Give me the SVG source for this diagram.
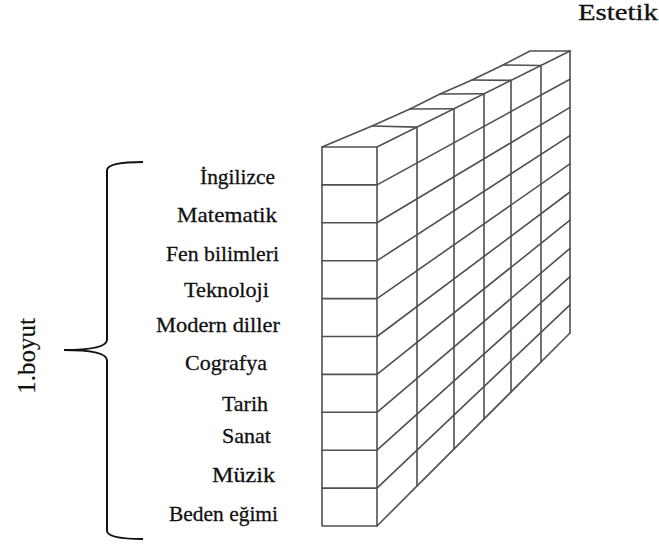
<svg xmlns="http://www.w3.org/2000/svg" width="659" height="544" viewBox="0 0 659 544">
<style>
.g{fill:none;stroke:#505050;stroke-width:1.6;stroke-linejoin:round;stroke-linecap:round}
.b{fill:none;stroke:#111;stroke-width:2}
.t{font-family:"Liberation Serif","Times New Roman",serif;font-size:22px;fill:#111;stroke:#111;stroke-width:0.3}
</style>
<rect width="659" height="544" fill="#fff"/>
<g id="wall" class="g">
  <rect x="322" y="147" width="55" height="379"/>
  <path d="M322,184.9H377M322,222.8H377M322,260.7H377M322,298.6H377M322,336.5H377M322,374.4H377M322,412.3H377M322,450.2H377M322,488.1H377"/>
  <polyline points="322,147 372,126 410,109 440,94 472,80 503,65 530,51 570,51"/>
  <line x1="377" y1="147" x2="570" y2="51"/>
  <path d="M372,126L417,127.1M410,109L454,108.7M440,94L484,93.8M472,80L511,80.4M503,65L541,65.5"/>
  <path d="M417,127.1V486M454,108.7V449M484,93.8V419M511,80.4V392M541,65.5V362M570,51V333"/>
  <line x1="377" y1="526" x2="570" y2="333"/>
  <path d="M377,184.9L570,79.2M377,222.8L570,107.4M377,260.7L570,135.6M377,298.6L570,163.8M377,336.5L570,192M377,374.4L570,220.2M377,412.3L570,248.4M377,450.2L570,276.6M377,488.1L570,304.8"/>
</g>
<g id="labels" class="t">
  <text x="200" y="184" textLength="75" lengthAdjust="spacingAndGlyphs">İngilizce</text>
  <text x="177" y="222" textLength="100" lengthAdjust="spacingAndGlyphs">Matematik</text>
  <text x="166" y="261" textLength="113" lengthAdjust="spacingAndGlyphs">Fen bilimleri</text>
  <text x="184" y="297" textLength="85" lengthAdjust="spacingAndGlyphs">Teknoloji</text>
  <text x="156" y="332" textLength="124" lengthAdjust="spacingAndGlyphs">Modern diller</text>
  <text x="185" y="370" textLength="82" lengthAdjust="spacingAndGlyphs">Cografya</text>
  <text x="222" y="411" textLength="46" lengthAdjust="spacingAndGlyphs">Tarih</text>
  <text x="222" y="443" textLength="49" lengthAdjust="spacingAndGlyphs">Sanat</text>
  <text x="212" y="482" textLength="63" lengthAdjust="spacingAndGlyphs">Müzik</text>
  <text x="169" y="521" textLength="109" lengthAdjust="spacingAndGlyphs">Beden eğimi</text>
</g>
<g id="brace">
  <path class="b" d="M143,162 Q108,162 107,170 L107,340 Q106,350 64,350 Q106,350 107,360 L107,531 Q108,539 143,539"/>
</g>
<g id="axis1">
  <text class="t" style="font-size:25px;stroke-width:0.2" text-anchor="middle" transform="translate(35,356) rotate(-90)">1.boyut</text>
</g>
<g id="axis2">
  <text class="t" style="font-size:23px" x="578" y="20" textLength="80" lengthAdjust="spacingAndGlyphs">Estetik</text>
</g>
</svg>
